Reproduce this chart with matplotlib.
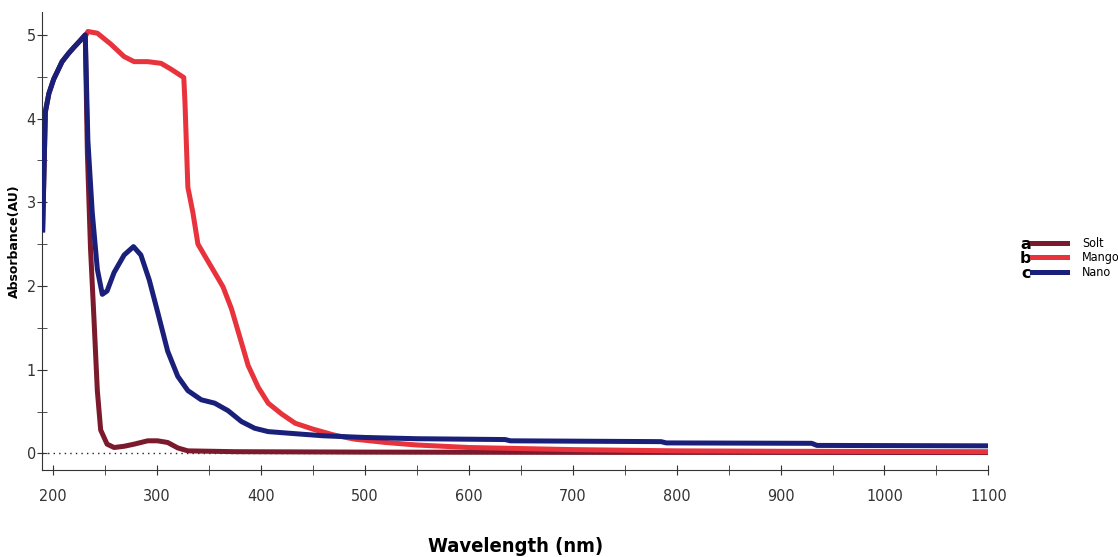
import matplotlib.pyplot as plt
import matplotlib.ticker as ticker
import numpy as np

# Absorbance spectra
nano_nm = [190, 192.6, 196, 200.6, 208.7, 215, 220, 226, 231, 233.5, 237.7, 242.6,
           247.4, 252, 258.7, 268.4, 277.4, 284.5, 292.6, 300.6, 310.3, 320, 329.7,
           342.6, 355.5, 368.4, 381.3, 394, 407, 433, 460, 500, 550, 635, 640, 785,
           790, 930, 935, 1100]
nano_abs = [2.67, 4.08, 4.3, 4.47, 4.68, 4.78, 4.85, 4.93, 5.0, 3.74, 2.88, 2.2,
            1.90, 1.94, 2.16, 2.37, 2.47, 2.37, 2.07, 1.69, 1.22, 0.92, 0.75,
            0.64, 0.60, 0.51, 0.38, 0.30, 0.26, 0.235, 0.21, 0.19, 0.175, 0.165, 0.15, 0.14,
            0.125, 0.12, 0.095, 0.09]

mango_nm = [231, 233.5, 242.6, 255.5, 268.4, 278, 291, 303.9, 313.5, 325.8, 327,
            329.7, 334.5, 339.4, 347.4, 355.5, 363.5, 371.6, 379.7, 387.7, 397.4,
            407, 420, 433, 450, 470, 490, 520, 550, 600, 700, 800, 900, 1100]
mango_abs = [4.98, 5.04, 5.02, 4.89, 4.74, 4.68, 4.68, 4.66, 4.59, 4.49, 4.17,
             3.18, 2.88, 2.5, 2.33, 2.16, 1.99, 1.73, 1.39, 1.05, 0.79,
             0.60, 0.47, 0.36, 0.29, 0.22, 0.17, 0.13, 0.1, 0.07, 0.045, 0.03, 0.025, 0.02]

solt_nm = [190, 192.6, 196, 200.6, 208.7, 215, 220, 226, 231, 233, 236, 239.4,
           242.6, 245.8, 252, 258.7, 268.4, 278, 291, 300.6, 310.3, 320, 329.7,
           375, 500, 700, 1100]
solt_abs = [2.67, 4.08, 4.3, 4.47, 4.68, 4.78, 4.85, 4.93, 5.0, 3.6, 2.46, 1.6,
            0.75, 0.28, 0.11, 0.07, 0.085, 0.11, 0.15, 0.15, 0.13, 0.065, 0.03,
            0.02, 0.015, 0.012, 0.01]

series_names = ['Solt', 'Mango', 'Nano']
series_letters = ['a', 'b', 'c']
series_colors = ['#7b1a2c', '#e8323c', '#1a207a']

fig = plt.figure(figsize=(11.18, 5.57), dpi=100)
ax = fig.add_axes([0.0376, 0.156, 0.8465, 0.822])

# dotted zero line
ax.axhline(0, color='#222222', linestyle=(0, (1, 3)), linewidth=1.0, zorder=1)

lw = 3.6
lines = []
lines.append(ax.plot(solt_nm, solt_abs, color=series_colors[0], lw=lw, zorder=2)[0])
lines.append(ax.plot(mango_nm, mango_abs, color=series_colors[1], lw=lw, zorder=3)[0])
lines.append(ax.plot(nano_nm, nano_abs, color=series_colors[2], lw=lw, zorder=4)[0])

# axes
ax.set_xlim(189.4, 1100)
ax.set_ylim(-0.2, 5.27)
ax.spines['top'].set_visible(False)
ax.spines['right'].set_visible(False)
ax.spines['left'].set_color('#333333')
ax.spines['bottom'].set_color('#333333')
ax.xaxis.set_major_locator(ticker.MultipleLocator(100))
ax.xaxis.set_minor_locator(ticker.MultipleLocator(50))
ax.yaxis.set_major_locator(ticker.MultipleLocator(1))
ax.yaxis.set_minor_locator(ticker.MultipleLocator(0.5))
ax.tick_params(which='both', direction='inout', length=7, color='#333333')
ax.tick_params(axis='x', pad=10)
ax.tick_params(axis='y', pad=1)
for lab in ax.get_xticklabels() + ax.get_yticklabels():
    lab.set_fontstretch('condensed')
    lab.set_fontsize(11.5)
    lab.set_color('#333333')

ax.set_xlabel('Wavelength (nm)', fontsize=14.5, fontweight='bold',
              fontstretch='condensed', labelpad=24)
ax.set_ylabel('Absorbance(AU)', fontsize=9, fontweight='bold')
ax.yaxis.set_label_coords(-0.022, 0.5)

leg = fig.legend(lines, series_names, loc='center left',
                 bbox_to_anchor=(0.913, 0.537), frameon=False,
                 handlelength=2.8, handletextpad=1.2, labelspacing=0.12,
                 prop={'size': 9, 'stretch': 'condensed'})
for h in leg.get_lines():
    h.set_linewidth(3.6)

# letters in front of legend lines
fig.canvas.draw()
inv = fig.transFigure.inverted()
for h, letter in zip(leg.get_lines(), series_letters):
    bb = h.get_window_extent(fig.canvas.get_renderer())
    x0, y0 = inv.transform((bb.x0, (bb.y0 + bb.y1) / 2))
    fig.text(x0 - 0.001, y0, letter, ha='right', va='center_baseline',
             fontsize=11.5, fontweight='bold')

fig.savefig('out.png', dpi=100)
